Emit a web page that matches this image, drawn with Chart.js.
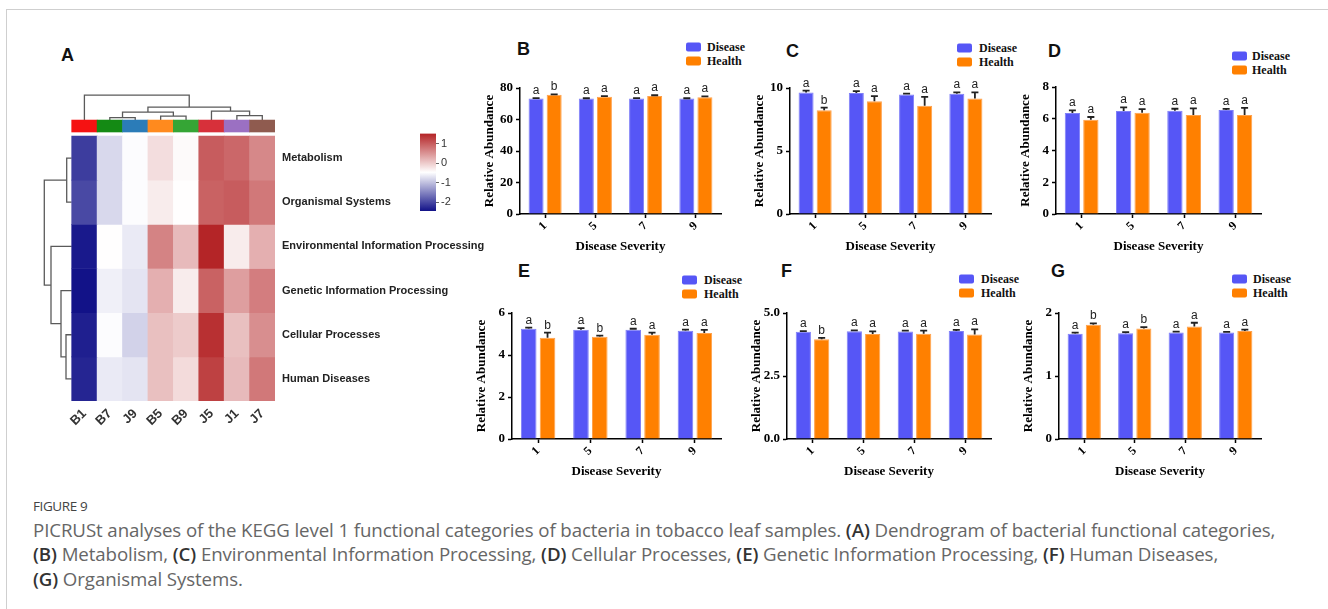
<!DOCTYPE html>
<html>
<head>
<meta charset="utf-8">
<script src="https://cdn.jsdelivr.net/npm/chart.js@4.4.1/dist/chart.umd.min.js"></script>
<style>
  body { margin: 0; width: 1328px; height: 609px; background: #fff; position: relative; overflow: hidden; }
  .frame { position: absolute; left: 6px; top: 9px; right: 0; bottom: 0; border-top: 1px solid #cfcfcf; border-left: 1px solid #cfcfcf; }
  canvas { position: absolute; }
  .txt { position: absolute; transform: translateY(-50%); white-space: nowrap; }
  .panel { font: bold 18px "Liberation Sans", Arial, sans-serif; color: #111; }
  .leg { font: bold 12px "Liberation Serif", serif; color: #111; }
  .sw { position: absolute; width: 15px; height: 9px; border-radius: 2px; transform: translateY(-50%); }
  .fig { position: absolute; left: 33px; top: 497px; font: 13.5px "Open Sans", sans-serif; color: #444; letter-spacing: -0.4px; }
  .cap { position: absolute; left: 33px; top: 518px; font: 18.7px/24.3px "Open Sans", sans-serif; color: #666; white-space: nowrap; letter-spacing: -0.1px; }
  .cap b { color: #333; font-weight: 600; }
</style>
</head>
<body>
<div class="frame"></div>
<div class="fig">FIGURE 9</div>
<div class="cap">PICRUSt analyses of the KEGG level 1 functional categories of bacteria in tobacco leaf samples. <b>(A)</b> Dendrogram of bacterial functional categories,<br><b>(B)</b> Metabolism, <b>(C)</b> Environmental Information Processing, <b>(D)</b> Cellular Processes, <b>(E)</b> Genetic Information Processing, <b>(F)</b> Human Diseases,<br><b>(G)</b> Organismal Systems.</div>
<script>
// ---- heatmap data (z-scores) ----
const heatCols = ['B1', 'B7', 'J9', 'B5', 'B9', 'J5', 'J1', 'J7'];
const heatRows = ['Metabolism', 'Organismal Systems', 'Environmental Information Processing',
  'Genetic Information Processing', 'Cellular Processes', 'Human Diseases'];
const zMetabolism = [-2.1, -0.8, -0.5, -0.17, -0.43, 1.0, 0.9, 0.6];
const zOrganismal = [-2.0, -0.8, -0.5, -0.3, -0.47, 0.95, 1.0, 0.75];
const zEnvironmental = [-2.4, -0.47, -0.65, 0.65, 0.15, 1.5, -0.3, 0.25];
const zGenetic = [-2.46, -0.6, -0.7, 0.25, -0.3, 0.95, 0.4, 0.7];
const zCellular = [-2.35, -0.5, -0.85, 0.1, 0.0, 1.4, 0.1, 0.55];
const zHuman = [-2.3, -0.65, -0.7, 0.1, -0.15, 1.25, 0.15, 0.75];
const heatValues = [zMetabolism, zOrganismal, zEnvironmental, zGenetic, zCellular, zHuman];

// dendrograms: [left, right, height]; numbers refer to earlier merges
const colMerges = [['B7', 'J9', 2.5], ['B5', 'B9', 4], ['J1', 'J7', 4.5], [0, 1, 8], ['J5', 2, 9], [3, 4, 13], ['B1', 5, 25]];
const rowMerges = [['Metabolism', 'Organismal Systems', 5], ['Cellular Processes', 'Human Diseases', 5.7],
  ['Genetic Information Processing', 1, 10.7], ['Environmental Information Processing', 2, 20.7], [0, 3, 27.4]];

const zMin = -2.46, zMax = 1.51;
const colorbarTicks = [1, 0, -1, -2];

// ---- bar panels ----
const severity = ['1', '5', '7', '9'];

const metabolismDisease = [73.4, 73.3, 73.4, 73.3];
const metabolismHealth = [75.7, 74.4, 74.9, 74.2];
const metabolismDiseaseErr = [0.2, 0.2, 0.2, 0.2];
const metabolismHealthErr = [0.3, 0.4, 0.5, 0.5];
const metabolismDiseaseSig = ['a', 'a', 'a', 'a'];
const metabolismHealthSig = ['b', 'a', 'a', 'a'];

const environmentalDisease = [9.64, 9.6, 9.48, 9.55];
const environmentalHealth = [8.24, 8.95, 8.6, 9.16];
const environmentalDiseaseErr = [0.15, 0.15, 0.08, 0.1];
const environmentalHealthErr = [0.2, 0.4, 0.7, 0.5];
const environmentalDiseaseSig = ['a', 'a', 'a', 'a'];
const environmentalHealthSig = ['b', 'a', 'a', 'a'];

const cellularDisease = [6.36, 6.49, 6.51, 6.55];
const cellularHealth = [5.94, 6.38, 6.23, 6.23];
const cellularDiseaseErr = [0.17, 0.23, 0.12, 0.07];
const cellularHealthErr = [0.17, 0.23, 0.42, 0.45];
const cellularDiseaseSig = ['a', 'a', 'a', 'a'];
const cellularHealthSig = ['a', 'a', 'a', 'a'];

const geneticDisease = [5.25, 5.2, 5.2, 5.15];
const geneticHealth = [4.82, 4.87, 4.97, 5.05];
const geneticDiseaseErr = [0.05, 0.08, 0.05, 0.06];
const geneticHealthErr = [0.25, 0.05, 0.1, 0.15];
const geneticDiseaseSig = ['a', 'a', 'a', 'a'];
const geneticHealthSig = ['b', 'b', 'a', 'a'];

const humanDisease = [4.26, 4.28, 4.27, 4.29];
const humanHealth = [3.96, 4.17, 4.18, 4.15];
const humanDiseaseErr = [0.02, 0.03, 0.03, 0.04];
const humanHealthErr = [0.05, 0.1, 0.12, 0.2];
const humanDiseaseSig = ['a', 'a', 'a', 'a'];
const humanHealthSig = ['b', 'a', 'a', 'a'];

const organismalDisease = [1.67, 1.68, 1.69, 1.69];
const organismalHealth = [1.815, 1.755, 1.785, 1.715];
const organismalDiseaseErr = [0.02, 0.015, 0.015, 0.01];
const organismalHealthErr = [0.02, 0.02, 0.06, 0.02];
const organismalDiseaseSig = ['a', 'a', 'a', 'a'];
const organismalHealthSig = ['b', 'b', 'a', 'a'];

const seriesNames = ['Disease', 'Health'];
const xTitle = 'Disease Severity';
const yTitle = 'Relative Abundance';

// ---- styles / layout ----
const SERIF = '"Liberation Serif", "Times New Roman", serif';
const SANS = '"Liberation Sans", Arial, sans-serif';
const DISEASE_COLOR = '#5656f6';
const HEALTH_COLOR = '#ff8000';
const GROUP_COLORS = ['#f51212', '#148a14', '#2b7cb8', '#ff8a1e', '#35a535', '#d7303a', '#9b70c2', '#8f5b4f'];
const LOW = [18, 18, 136], MID = [255, 255, 255], HIGH = [180, 36, 38];

function addText(cls, text, x, y) {
  const d = document.createElement('div');
  d.className = 'txt ' + cls;
  d.textContent = text;
  d.style.left = x + 'px';
  d.style.top = y + 'px';
  document.body.appendChild(d);
}

function addCanvas(left, top, w, h) {
  const c = document.createElement('canvas');
  c.width = w; c.height = h;
  c.style.left = left + 'px'; c.style.top = top + 'px';
  c.style.width = w + 'px'; c.style.height = h + 'px';
  document.body.appendChild(c);
  return c;
}

function zColor(z) {
  const mid = (zMin + zMax) / 2;
  let t, a, b;
  if (z <= mid) { t = (z - zMin) / (mid - zMin); a = LOW; b = MID; }
  else { t = (z - mid) / (zMax - mid); a = MID; b = HIGH; }
  t = Math.max(0, Math.min(1, t));
  const c = a.map((v, k) => Math.round(v + (b[k] - v) * t));
  return `rgb(${c[0]},${c[1]},${c[2]})`;
}

// ---------- Panel A: heatmap ----------
addText('panel', 'A', 61, 55);

const STRIP_TOP = -0.36, STRIP_BOTTOM = -0.09;
const COL_DENDRO_SCALE = 1 / 44.17;   // height unit -> rows
const ROW_DENDRO_SCALE = 1 / 25.41;   // height unit -> columns

function dendroSegments(leaves, merges, leafPos) {
  const pos = {};
  leaves.forEach((l, i) => { pos[l] = { c: leafPos(i), h: 0 }; });
  const nodes = [];
  const get = k => (typeof k === 'number' ? nodes[k] : pos[k]);
  return merges.map(([a, b, h]) => {
    const A = get(a), B = get(b);
    nodes.push({ c: (A.c + B.c) / 2, h });
    return [[A.c, A.h], [A.c, h], [B.c, h], [B.c, B.h]];
  });
}

const lineStyle = { type: 'line', borderColor: '#5a5a5a', borderWidth: 1.3, pointRadius: 0, fill: false, tension: 0, clip: false };

const colDendro = dendroSegments(heatCols, colMerges, i => i).map(seg => Object.assign({}, lineStyle, {
  data: seg.map(([c, h]) => ({ x: c, y: STRIP_TOP - h * COL_DENDRO_SCALE }))
}));
const rowDendro = dendroSegments(heatRows, rowMerges, i => i + 0.5).map(seg => Object.assign({}, lineStyle, {
  data: seg.map(([c, h]) => ({ x: -0.5 - h * ROW_DENDRO_SCALE, y: c }))
}));

const cellSets = heatRows.map((row, i) => ({
  type: 'bar',
  data: heatCols.map((c, j) => ({ x: j, y: [i, i + 1] })),
  backgroundColor: heatValues[i].map(zColor),
  borderWidth: 0, grouped: false, barPercentage: 1, categoryPercentage: 1
}));
const stripSet = {
  type: 'bar',
  data: heatCols.map((c, j) => ({ x: j, y: [STRIP_TOP, STRIP_BOTTOM] })),
  backgroundColor: GROUP_COLORS,
  borderWidth: 0, grouped: false, barPercentage: 1, categoryPercentage: 1
};

new Chart(addCanvas(30, 80, 455, 351), {
  type: 'bar',
  data: { datasets: [...cellSets, stripSet, ...colDendro, ...rowDendro] },
  options: {
    animation: false, responsive: false,
    layout: { padding: { left: 14, top: 14, right: 0, bottom: 0 } },
    plugins: { legend: { display: false }, tooltip: { enabled: false } },
    scales: {
      x: {
        type: 'linear', min: -1.59, max: 7.5, offset: false,
        grid: { display: false, drawTicks: false, offset: false }, border: { display: false },
        afterBuildTicks: s => { s.ticks = heatCols.map((c, j) => ({ value: j })); },
        afterFit: s => { s.height = 30; },
        ticks: { autoSkip: false, minRotation: 45, maxRotation: 45, padding: 5, color: '#333',
          font: { family: SANS, size: 13, weight: 'bold' }, callback: v => heatCols[v] }
      },
      y: {
        type: 'linear', position: 'right', reverse: true, min: -0.95, max: 6,
        grid: { display: false, drawTicks: false }, border: { display: false },
        afterBuildTicks: s => { s.ticks = heatRows.map((r, i) => ({ value: i + 0.5 })); },
        afterFit: s => { s.width = 210; },
        ticks: { autoSkip: false, padding: 7, color: '#222',
          font: { family: SANS, size: 11, weight: 'bold' }, callback: v => heatRows[Math.floor(v)] }
      }
    }
  }
});

// colour key
new Chart(addCanvas(415, 125, 49, 96), {
  type: 'bar',
  data: {
    labels: [''],
    datasets: [{
      data: [[zMin, zMax]], borderWidth: 0, barPercentage: 1, categoryPercentage: 1,
      backgroundColor: c => {
        const a = c.chart.chartArea;
        if (!a) return '#fff';
        const g = c.chart.ctx.createLinearGradient(0, a.bottom, 0, a.top);
        g.addColorStop(0, `rgb(${LOW.join(',')})`);
        g.addColorStop(0.5, '#ffffff');
        g.addColorStop(1, `rgb(${HIGH.join(',')})`);
        return g;
      }
    }]
  },
  options: {
    animation: false, responsive: false,
    layout: { padding: { left: 5, top: 8, right: 0, bottom: 10 } },
    plugins: { legend: { display: false }, tooltip: { enabled: false } },
    scales: {
      x: { display: false },
      y: {
        position: 'right', min: zMin, max: zMax,
        afterBuildTicks: s => { s.ticks = colorbarTicks.map(v => ({ value: v })); },
        afterFit: s => { s.width = 28; },
        grid: { display: true, drawOnChartArea: false, drawTicks: true, tickLength: 3, color: '#666' },
        border: { display: false },
        ticks: { padding: 2, color: '#333', font: { family: SANS, size: 11 } }
      }
    }
  }
});

// ---------- Panels B-G: bar charts ----------
const barExtras = {
  id: 'barExtras',
  afterDatasetsDraw(chart) {
    const ctx = chart.ctx, y = chart.scales.y;
    chart.data.datasets.forEach((ds, d) => {
      chart.getDatasetMeta(d).data.forEach((bar, i) => {
        const top = y.getPixelForValue(ds.data[i] + ds.errors[i]);
        ctx.save();
        ctx.strokeStyle = '#222';
        ctx.lineWidth = 1.8;
        ctx.beginPath();
        ctx.moveTo(bar.x, bar.y);
        ctx.lineTo(bar.x, top);
        ctx.moveTo(bar.x - 3.5, top);
        ctx.lineTo(bar.x + 3.5, top);
        ctx.stroke();
        ctx.fillStyle = '#222';
        ctx.font = '12px ' + SANS;
        ctx.textAlign = 'center';
        ctx.textBaseline = 'alphabetic';
        ctx.fillText(ds.sig[i], bar.x, top - 4);
        ctx.restore();
      });
    });
  }
};

const panels = [
  { id: 'B', disease: metabolismDisease, health: metabolismHealth, dErr: metabolismDiseaseErr, hErr: metabolismHealthErr,
    dSig: metabolismDiseaseSig, hSig: metabolismHealthSig, max: 80, step: 20, dec: 0,
    axisX: 520, xEnd: 721, yTop: 88, y0: 214, label: [517, 49], legend: [686, 47, 707] },
  { id: 'C', disease: environmentalDisease, health: environmentalHealth, dErr: environmentalDiseaseErr, hErr: environmentalHealthErr,
    dSig: environmentalDiseaseSig, hSig: environmentalHealthSig, max: 10, step: 5, dec: 0,
    axisX: 790, xEnd: 991, yTop: 88, y0: 214, label: [786, 51], legend: [957, 47.5, 979] },
  { id: 'D', disease: cellularDisease, health: cellularHealth, dErr: cellularDiseaseErr, hErr: cellularHealthErr,
    dSig: cellularDiseaseSig, hSig: cellularHealthSig, max: 8, step: 2, dec: 0,
    axisX: 1056, xEnd: 1261, yTop: 87, y0: 214, label: [1048, 51], legend: [1232, 56, 1252] },
  { id: 'E', disease: geneticDisease, health: geneticHealth, dErr: geneticDiseaseErr, hErr: geneticHealthErr,
    dSig: geneticDiseaseSig, hSig: geneticHealthSig, max: 6, step: 2, dec: 0,
    axisX: 512, xEnd: 721, yTop: 313, y0: 439, label: [518, 271], legend: [682, 280, 704] },
  { id: 'F', disease: humanDisease, health: humanHealth, dErr: humanDiseaseErr, hErr: humanHealthErr,
    dSig: humanDiseaseSig, hSig: humanHealthSig, max: 5, step: 2.5, dec: 1,
    axisX: 787, xEnd: 991, yTop: 313, y0: 439, label: [781, 271], legend: [959, 279, 981] },
  { id: 'G', disease: organismalDisease, health: organismalHealth, dErr: organismalDiseaseErr, hErr: organismalHealthErr,
    dSig: organismalDiseaseSig, hSig: organismalHealthSig, max: 2, step: 1, dec: 0,
    axisX: 1059, xEnd: 1261, yTop: 313, y0: 439, label: [1051, 271], legend: [1232, 279, 1253] }
];

const YW = 42, XH = 44, PT = 30, PR = 8;

panels.forEach(p => {
  addText('panel', p.id, p.label[0], p.label[1]);
  [DISEASE_COLOR, HEALTH_COLOR].forEach((col, k) => {
    const sw = document.createElement('div');
    sw.className = 'sw';
    sw.style.background = col;
    sw.style.left = p.legend[0] + 'px';
    sw.style.top = (p.legend[1] + k * 14) + 'px';
    document.body.appendChild(sw);
    addText('leg', seriesNames[k], p.legend[2], p.legend[1] + k * 14);
  });

  const w = YW + (p.xEnd - p.axisX) + PR;
  const h = PT + (p.y0 - p.yTop) + XH;
  const axisFont = { family: SERIF, size: 13, weight: 'bold' };
  new Chart(addCanvas(p.axisX - YW, p.yTop - PT, w, h), {
    type: 'bar',
    data: {
      labels: severity,
      datasets: [
        { label: seriesNames[0], data: p.disease, errors: p.dErr, sig: p.dSig,
          backgroundColor: DISEASE_COLOR, borderColor: '#8080f8', borderWidth: 1 },
        { label: seriesNames[1], data: p.health, errors: p.hErr, sig: p.hSig,
          backgroundColor: HEALTH_COLOR, borderColor: '#ffa24d', borderWidth: 1 }
      ]
    },
    options: {
      animation: false, responsive: false,
      layout: { padding: { top: PT, right: PR, left: 0, bottom: 0 } },
      plugins: { legend: { display: false }, tooltip: { enabled: false } },
      datasets: { bar: { categoryPercentage: 0.72, barPercentage: 0.83 } },
      scales: {
        x: {
          grid: { display: true, drawOnChartArea: false, drawTicks: true, tickLength: 4, tickWidth: 1.5, tickColor: '#000', offset: false },
          border: { display: true, color: '#000', width: 1.5 },
          ticks: { color: '#000', font: { family: SERIF, size: 12, weight: 'bold' }, minRotation: 45, maxRotation: 45, padding: 1 },
          title: { display: true, text: xTitle, color: '#000', font: axisFont, padding: { top: 4, bottom: 4 } },
          afterFit: s => { s.height = XH; }
        },
        y: {
          min: 0, max: p.max,
          grid: { display: true, drawOnChartArea: false, drawTicks: true, tickLength: 4, tickWidth: 1.5, tickColor: '#000' },
          border: { display: true, color: '#000', width: 1.5 },
          ticks: { stepSize: p.step, color: '#000', padding: 3, font: axisFont, callback: v => v.toFixed(p.dec) },
          title: { display: true, text: yTitle, color: '#000', font: axisFont, padding: { top: 4, bottom: 4 } },
          afterFit: s => { s.width = YW; }
        }
      }
    },
    plugins: [barExtras]
  });
});
</script>
</body>
</html>
